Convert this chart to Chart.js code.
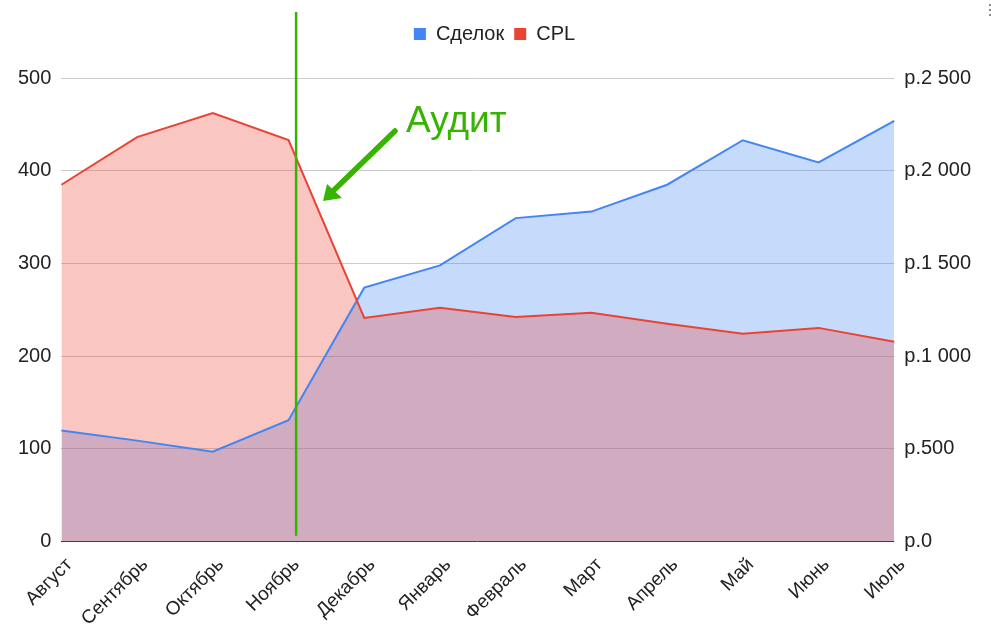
<!DOCTYPE html>
<html>
<head>
<meta charset="utf-8">
<script src="https://cdn.jsdelivr.net/npm/chart.js@4.4.1/dist/chart.umd.min.js"></script>
<style>
  html, body { margin: 0; padding: 0; background: #fff; }
  #wrap { width: 991px; height: 638px; }
</style>
</head>
<body>
<div id="wrap"><canvas id="chart" width="991" height="638"></canvas></div>
<script>
const months = ["Август", "Сентябрь", "Октябрь", "Ноябрь", "Декабрь", "Январь",
  "Февраль", "Март", "Апрель", "Май", "Июнь", "Июль"];
const deals = [120, 109, 97, 131, 274, 298, 349, 356, 385, 433, 409, 454];
const cpl = [1925, 2182, 2312, 2166, 1207, 1261, 1212, 1234, 1175, 1121, 1153, 1078];
const leftTicks = [0, 100, 200, 300, 400, 500];
const rightTicks = [0, 500, 1000, 1500, 2000, 2500];

const leftMax = 526;
const green = "#36b400";
const font = { family: "'Liberation Sans', Arial, sans-serif", size: 20 };
const xFont = { family: "'Liberation Sans', Arial, sans-serif", size: 19 };

function rub(v) {
  if (v >= 1000) return "р." + Math.floor(v / 1000) + " " + String(v % 1000).padStart(3, "0");
  return "р." + v;
}

// annotation: vertical line, arrow and label
const auditMark = {
  id: "auditMark",
  afterDraw(chart) {
    const { ctx, scales: { x, y } } = chart;
    const step = x.getPixelForValue(4) - x.getPixelForValue(3);
    const lx = x.getPixelForValue(3) + step * 0.1;
    ctx.save();
    ctx.strokeStyle = green;
    ctx.lineWidth = 2.5;
    ctx.beginPath();
    ctx.moveTo(lx, 12);
    ctx.lineTo(lx, y.bottom - 6);
    ctx.stroke();

    // arrow
    ctx.lineWidth = 5.5;
    ctx.lineCap = "round";
    ctx.beginPath();
    ctx.moveTo(395, 131);
    ctx.lineTo(333, 191);
    ctx.stroke();
    ctx.fillStyle = green;
    ctx.beginPath();
    ctx.moveTo(323, 201);
    ctx.lineTo(327, 184);
    ctx.lineTo(342, 198);
    ctx.closePath();
    ctx.fill();

    ctx.font = "37px 'Liberation Sans', Arial, sans-serif";
    ctx.textBaseline = "alphabetic";
    ctx.fillText("Аудит", 406, 132);

    // bits of the menu icon at the corner
    ctx.fillStyle = "#888";
    [4, 9, 14].forEach(t => ctx.fillRect(989, t, 2, 2));
    ctx.restore();
  }
};

new Chart(document.getElementById("chart").getContext("2d"), {
  type: "line",
  data: {
    labels: months,
    datasets: [
      {
        label: "Сделок",
        data: deals,
        yAxisID: "y",
        borderColor: "#4285f4",
        backgroundColor: "rgba(66, 133, 244, 0.3)",
        borderWidth: 2,
        fill: "origin",
        pointRadius: 0,
        tension: 0,
        order: 1,
      },
      {
        label: "CPL",
        data: cpl,
        yAxisID: "y1",
        borderColor: "#ea4335",
        backgroundColor: "rgba(234, 67, 53, 0.3)",
        borderWidth: 2,
        fill: "origin",
        pointRadius: 0,
        tension: 0,
        order: 0,
      },
    ],
  },
  options: {
    responsive: false,
    animation: false,
    layout: { padding: { left: 8, right: 10, top: 14, bottom: 4 } },
    plugins: {
      filler: { drawTime: "beforeDatasetsDraw" },
      tooltip: { enabled: false },
      legend: {
        display: true,
        position: "top",
        labels: {
          boxWidth: 12,
          boxHeight: 12,
          color: "#222",
          font: font,
          padding: 10,
          sort: (a, b) => a.datasetIndex - b.datasetIndex,
          generateLabels: chart => {
            const items = Chart.defaults.plugins.legend.labels.generateLabels(chart);
            items.forEach(it => {
              const ds = chart.data.datasets[it.datasetIndex];
              it.fillStyle = ds.borderColor;
              it.strokeStyle = ds.borderColor;
              it.lineWidth = 0;
            });
            return items;
          },
        },
      },
    },
    scales: {
      x: {
        offset: false,
        grid: { display: false },
        border: { display: false },
        afterFit: s => { s.paddingLeft = 0; s.paddingRight = 0; },
        ticks: {
          color: "#222",
          font: xFont,
          maxRotation: 45,
          minRotation: 45,
          autoSkip: false,
          padding: 4,
          labelOffset: 8,
        },
      },
      y: {
        position: "left",
        min: 0,
        max: leftMax,
        afterBuildTicks: s => { s.ticks = leftTicks.map(v => ({ value: v })); },
        grid: {
          color: c => (c.tick && c.tick.value === 0 ? "#333" : "#ccc"),
          drawTicks: false,
        },
        border: { display: false },
        ticks: { color: "#222", font: font, padding: 10 },
      },
      y1: {
        position: "right",
        min: 0,
        max: leftMax * 5,
        afterBuildTicks: s => { s.ticks = rightTicks.map(v => ({ value: v })); },
        grid: { drawOnChartArea: false, drawTicks: false },
        border: { display: false },
        ticks: { color: "#222", font: font, padding: 10, callback: v => rub(v) },
      },
    },
  },
  plugins: [auditMark],
});
</script>
</body>
</html>
